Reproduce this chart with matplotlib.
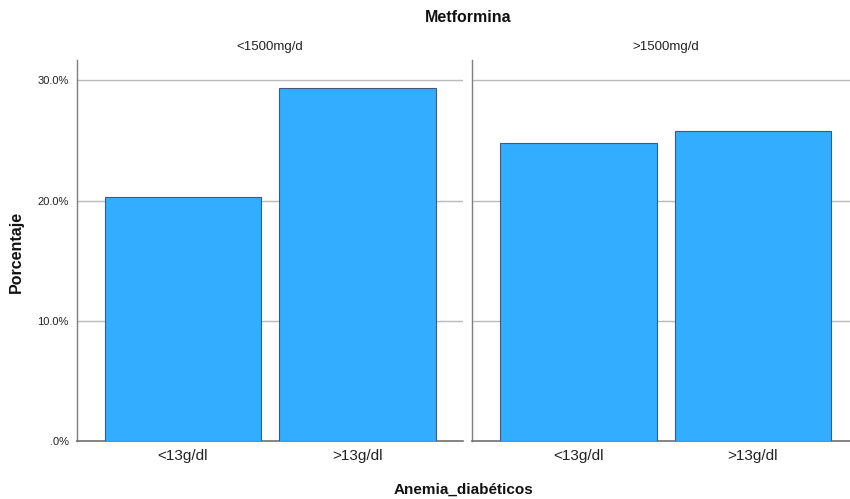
import matplotlib
matplotlib.use("Agg")
import matplotlib.pyplot as plt
from matplotlib.ticker import FuncFormatter

plt.rcParams['font.family'] = ['Liberation Sans', 'DejaVu Sans']

title = "Metformina"
panels = ["<1500mg/d", ">1500mg/d"]
categories = ["<13g/dl", ">13g/dl"]
values = {
    "<1500mg/d": [20.3, 29.4],
    ">1500mg/d": [24.8, 25.8],
}
yticks = [0, 10, 20, 30]
xlabel = "Anemia_diabéticos"
ylabel = "Porcentaje"

W, H = 850, 499
fig = plt.figure(figsize=(W / 100, H / 100), dpi=100)

def fx(px):
    return px / W

def fy(py):
    return 1 - py / H

ax_top, ax_bot = 60, 440.7
boxes = [(77, 463, (-0.607, 1.605)), (472, 850, (-0.61, 1.556))]

bar_color = "#33adff"
edge_color = "#3d5a7d"
grid_color = "#b9b9b9"
axis_color = "#7f7f7f"

for i, (panel, (x0, x1, xl)) in enumerate(zip(panels, boxes)):
    ax = fig.add_axes([fx(x0), fy(ax_bot), fx(x1 - x0), (ax_bot - ax_top) / H])
    xs = list(range(len(categories)))
    ax.bar(xs, values[panel], width=0.895, color=bar_color,
           edgecolor=edge_color, linewidth=0.8, zorder=3)
    ax.set_xlim(*xl)
    ax.set_ylim(0, 31.7)
    ax.set_yticks(yticks)
    for t in yticks[1:]:
        ax.axhline(t, color=grid_color, linewidth=1.0, zorder=1)
    ax.set_xticks(xs)
    ax.set_xticklabels(categories, fontsize=11, color="#222222")
    ax.tick_params(axis='x', length=0, pad=6)
    if i == 0:
        ax.yaxis.set_major_formatter(FuncFormatter(
            lambda v, p: ".0%" if v == 0 else f"{v:.1f}%"))
        ax.tick_params(axis='y', length=0, pad=6, labelsize=8, labelcolor="#222222")
    else:
        ax.tick_params(axis='y', length=0, labelleft=False)
    for s in ["top", "right"]:
        ax.spines[s].set_visible(False)
    ax.spines["left"].set_color(axis_color)
    ax.spines["left"].set_linewidth(1.0)
    ax.spines["bottom"].set_color("#6f6f6f")
    ax.spines["bottom"].set_linewidth(1.2)
    ax.patch.set_alpha(0)
    fig.text(fx((x0 + x1) / 2 if i == 0 else 666), fy(47), panel,
             ha="center", va="center", fontsize=9.5, color="#222222")

fig.text(fx(468), fy(17), title, ha="center", va="center",
         fontsize=11.5, fontweight="bold", color="#111111")
fig.text(fx(463), fy(490), xlabel, ha="center", va="center",
         fontsize=11, fontweight="bold", color="#111111")
fig.text(fx(16), fy(252), ylabel, ha="center", va="center", rotation=90,
         fontsize=11.5, fontweight="bold", color="#111111")

fig.savefig("out.png", dpi=100)
